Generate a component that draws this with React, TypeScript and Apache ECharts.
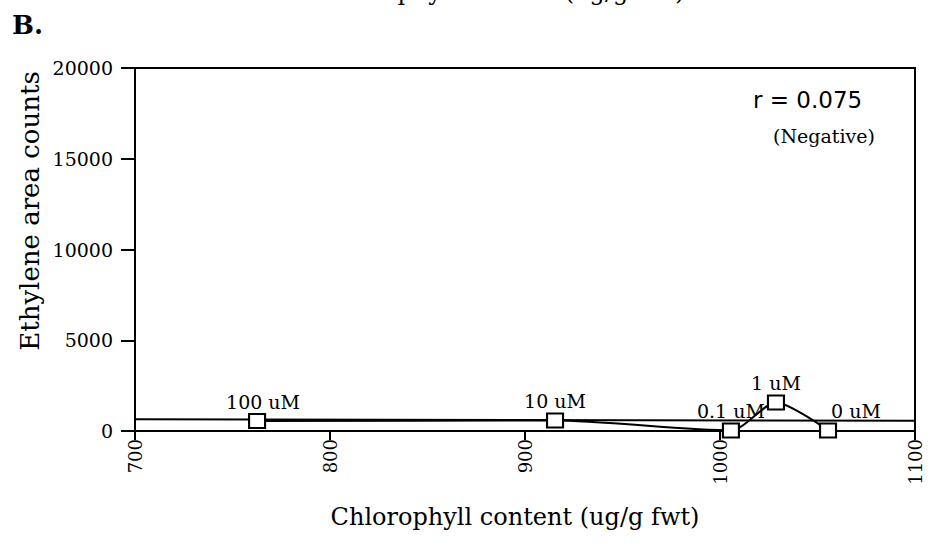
import React, { useEffect, useRef } from "react";
import * as echarts from "echarts";

const concentrations = ["100 uM", "10 uM", "0.1 uM", "1 uM", "0 uM"];
const chlorophyll = [762.6, 915.4, 1005.6, 1028.7, 1055.4];
const ethylene = [550, 580, 30, 1570, 30];
const fitX = [700, 1100];
const fitY = [650, 560];
const xTicks = { min: 700, max: 1100, interval: 100 };
const yTicks = { min: 0, max: 20000, interval: 5000 };
const xTitle = "Chlorophyll content (ug/g fwt)";
const yTitle = "Ethylene area counts";
const rText = "r = 0.075";
const signText = "(Negative)";
const panelText = "B.";

const SERIF = "'DejaVu Serif', serif";
const SANS = "'DejaVu Sans', sans-serif";

export default function App() {
  const ref = useRef<HTMLDivElement>(null);
  useEffect(() => {
    document.body.style.margin = "0";
    const chart = echarts.init(ref.current!, undefined, { renderer: "svg" });
    const labelOffsets: Record<string, number[]> = {
      "100 uM": [6, 0],
      "0 uM": [28, 0],
    };
    chart.setOption({
      animation: false,
      backgroundColor: "#fff",
      grid: {
        left: 135,
        right: 13,
        top: 68,
        bottom: 114,
        show: true,
        borderColor: "#000",
        borderWidth: 2,
      },
      xAxis: {
        type: "value",
        ...xTicks,
        axisLine: { lineStyle: { color: "#000", width: 2 }, onZero: false },
        axisTick: { show: true, length: 9, lineStyle: { color: "#000", width: 2 } },
        axisLabel: {
          rotate: 90,
          margin: 8,
          color: "#000",
          fontFamily: SERIF,
          fontSize: 18,
          formatter: (v: number) => String(v),
        },
        splitLine: { show: false },
      },
      yAxis: {
        type: "value",
        ...yTicks,
        axisLine: { show: true, lineStyle: { color: "#000", width: 2 } },
        axisTick: { show: true, length: 14, lineStyle: { color: "#000", width: 2 } },
        axisLabel: {
          margin: 22,
          color: "#000",
          fontFamily: SERIF,
          fontSize: 19,
          formatter: (v: number) => String(v),
        },
        splitLine: { show: false },
      },
      series: [
        {
          type: "line",
          data: fitX.map((x, i) => [x, fitY[i]]),
          showSymbol: false,
          symbol: "none",
          lineStyle: { color: "#000", width: 2 },
          z: 2,
        },
        {
          type: "line",
          smooth: 0.25,
          data: chlorophyll.map((x, i) => ({
            value: [x, ethylene[i]],
            label: {
              show: true,
              formatter: concentrations[i],
              offset: labelOffsets[concentrations[i]] || [0, 0],
            },
          })),
          symbol: "rect",
          symbolSize: [16, 14],
          itemStyle: { color: "#fff", borderColor: "#000", borderWidth: 2 },
          lineStyle: { color: "#000", width: 2 },
          label: {
            show: true,
            position: "top",
            distance: 2,
            color: "#000",
            fontFamily: SERIF,
            fontSize: 19,
          },
          z: 3,
        },
      ],
      graphic: [
        {
          type: "text",
          left: 12,
          top: 12,
          style: { text: panelText, font: `bold 26px ${SERIF}`, fill: "#000" },
        },
        {
          type: "text",
          x: 500,
          y: -8,
          style: {
            text: xTitle,
            font: `24px ${SERIF}`,
            fill: "#000",
            align: "center",
            verticalAlign: "middle",
          },
        },
        {
          type: "text",
          x: 753,
          y: 100,
          style: { text: rText, font: `23px ${SANS}`, fill: "#000", align: "left", verticalAlign: "middle" },
        },
        {
          type: "text",
          x: 773,
          y: 136,
          style: { text: signText, font: `19px ${SERIF}`, fill: "#000", align: "left", verticalAlign: "middle" },
        },
        {
          type: "text",
          x: 515,
          y: 517,
          style: { text: xTitle, font: `24px ${SERIF}`, fill: "#000", align: "center", verticalAlign: "middle" },
        },
        {
          type: "text",
          x: 30,
          y: 211,
          rotation: Math.PI / 2,
          style: { text: yTitle, font: `26px ${SERIF}`, fill: "#000", align: "center", verticalAlign: "middle" },
        },
      ],
    });
    return () => chart.dispose();
  }, []);
  return <div ref={ref} style={{ width: 928, height: 545 }} />;
}
